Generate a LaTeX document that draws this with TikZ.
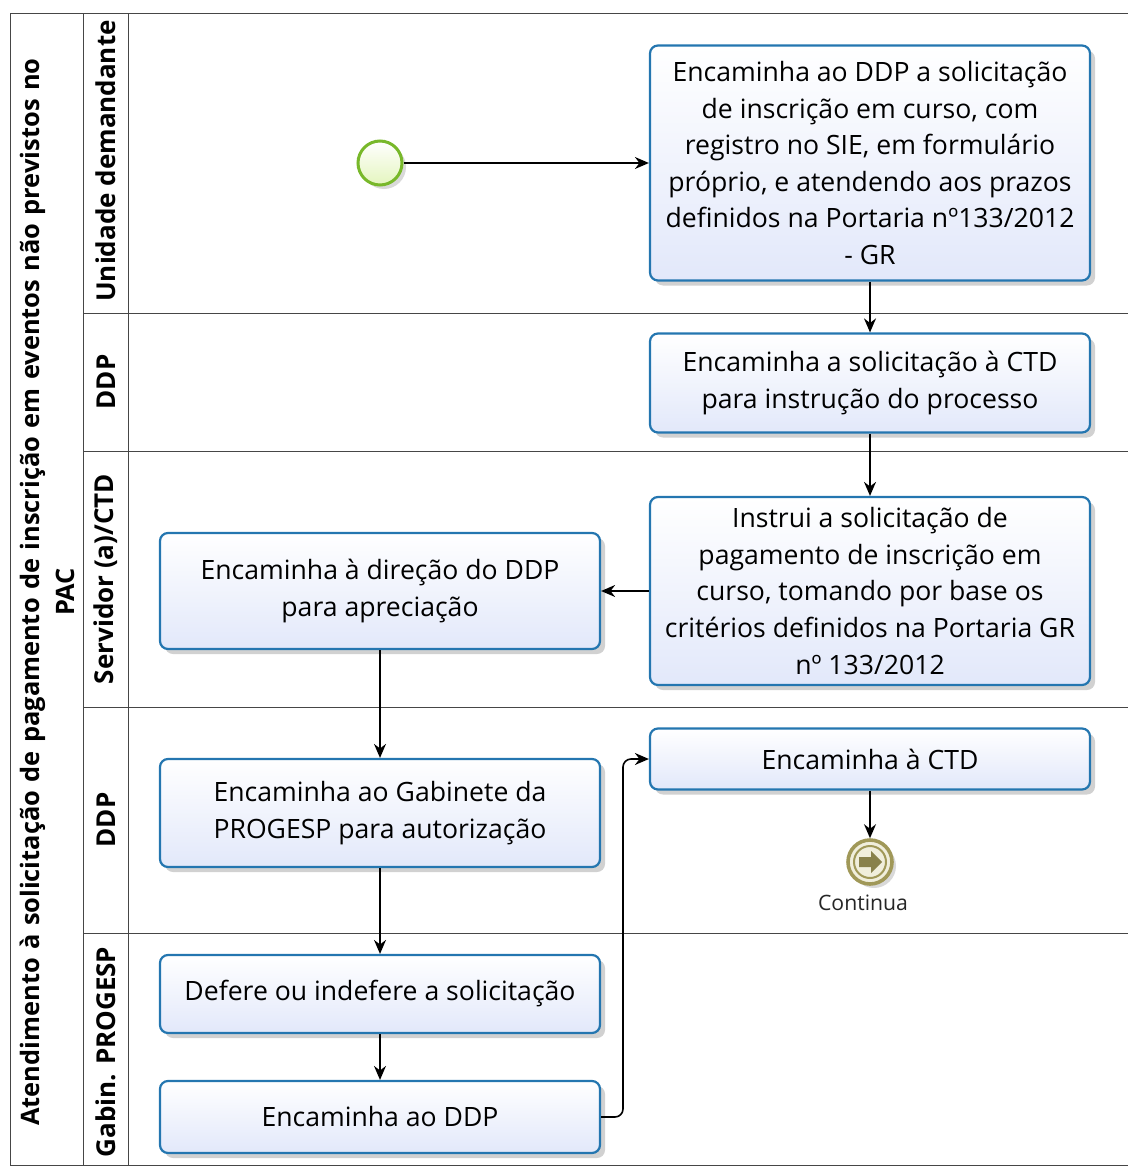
\documentclass[tikz,border=0pt]{standalone}
\usepackage{fontspec}
\setmainfont{Open Sans}
\usetikzlibrary{arrows.meta,shadows}

\definecolor{bordatarefa}{RGB}{36,118,176}
\definecolor{fundotarefa}{RGB}{226,232,250}
\definecolor{verdeinicio}{RGB}{120,184,42}
\definecolor{fundoinicio}{RGB}{228,245,190}
\definecolor{oliva}{RGB}{160,152,88}
\definecolor{fundooliva}{RGB}{240,238,220}
\definecolor{linhapool}{RGB}{70,70,70}

\begin{document}
\begin{tikzpicture}[x=0.5pt,y=-0.5pt,
    texto/.style={font=\fontsize{13.3}{18.3}\selectfont},
    tarefa/.style={texto, draw=bordatarefa, line width=1.1pt, rounded corners=4pt,
      top color=white, bottom color=fundotarefa, align=center, inner sep=0pt,
      minimum width=220pt,
      drop shadow={shadow xshift=2.5pt, shadow yshift=-2.5pt, opacity=0.18, fill=black}},
    raia/.style={font=\fontsize{13}{17.5}\selectfont\bfseries, rotate=90},
    linha/.style={draw=linhapool, line width=0.5pt},
    fluxo/.style={draw=black, line width=0.8pt, -{Stealth[length=7pt,width=6pt]}}]
\useasboundingbox (0,0) rectangle (1128,1167);

% pool e raias
\draw[linha] (1128,13) -- (10,13) -- (10,1165) -- (1128,1165);
\draw[linha] (83,13) -- (83,1165);
\draw[linha] (128,13) -- (128,1165);
\foreach \y in {313,451,707,933}
  \draw[linha] (83,\y) -- (1128,\y);

\node[raia, font=\fontsize{12.7}{17.5}\selectfont\bfseries, align=center, text width=560pt] (pool) at (47,592)
  {Atendimento à solicitação de pagamento de inscrição em eventos não previstos no\\PAC};
\node[raia] (raia1) at (106,161) {Unidade demandante};
\node[raia] (raia2) at (106,382) {DDP};
\node[raia] (raia3) at (106,579) {Servidor (a)/CTD};
\node[raia] (raia4) at (106,820) {DDP};
\node[raia] (raia5) at (106,1052) {Gabin. PROGESP};

% eventos
\node[circle, draw=verdeinicio, line width=1.5pt, minimum size=22pt, inner sep=0pt,
  top color=white, bottom color=fundoinicio,
  drop shadow={shadow xshift=2pt, shadow yshift=-2pt, opacity=0.15, fill=black}] (inicio) at (380,163) {};

\node[circle, draw=oliva, line width=1.8pt, minimum size=22pt, inner sep=0pt, fill=fundooliva,
  drop shadow={shadow xshift=2pt, shadow yshift=-2pt, opacity=0.15, fill=black}] (continua) at (870,862) {};
\draw[oliva, line width=1pt] (continua.center) circle (8pt);
\fill[oliva!85!black] ([xshift=-5.5pt,yshift=-2.5pt]continua.center) -- ++(6pt,0) -- ++(0,-3pt)
  -- ++(5.5pt,5.5pt) -- ++(-5.5pt,5.5pt) -- ++(0,-3pt) -- ++(-6pt,0) -- cycle;
\node[font=\fontsize{10.6}{12}\selectfont, text=black!85] (rotulo) at (863,903) {Continua};

% tarefas
\node[tarefa, minimum height=117.5pt] (t1) at (870,163)
  {Encaminha ao DDP a solicitação\\de inscrição em curso, com\\registro no SIE, em formulário\\próprio, e atendendo aos prazos\\definidos na Portaria nº133/2012\\- GR};
\node[tarefa, minimum height=49.5pt] (t2) at (870,383)
  {Encaminha a solicitação à CTD\\para instrução do processo};
\node[tarefa, minimum height=94pt] (t3) at (870,591)
  {Instrui a solicitação de\\pagamento de inscrição em\\curso, tomando por base os\\critérios definidos na Portaria GR\\nº 133/2012};
\node[tarefa, minimum height=58pt] (t4) at (380,591)
  {Encaminha à direção do DDP\\para apreciação};
\node[tarefa, minimum height=54pt] (t5) at (380,813)
  {Encaminha ao Gabinete da\\PROGESP para autorização};
\node[tarefa, minimum height=30.5pt] (t6) at (870,759) {Encaminha à CTD};
\node[tarefa, minimum height=39pt] (t7) at (380,994) {Defere ou indefere a solicitação};
\node[tarefa, minimum height=36pt] (t8) at (380,1117) {Encaminha ao DDP};

% fluxos
\draw[fluxo] (inicio) -- (t1);
\draw[fluxo] (t1) -- (t2);
\draw[fluxo] (t2) -- (t3);
\draw[fluxo] (t3) -- (t4);
\draw[fluxo] (t4) -- (t5);
\draw[fluxo] (t5) -- (t7);
\draw[fluxo] (t7) -- (t8);
\draw[fluxo, rounded corners=4pt] (t8.east) -| (623,759) -- (t6.west);
\draw[fluxo] (t6) -- (continua);
\end{tikzpicture}
\end{document}
